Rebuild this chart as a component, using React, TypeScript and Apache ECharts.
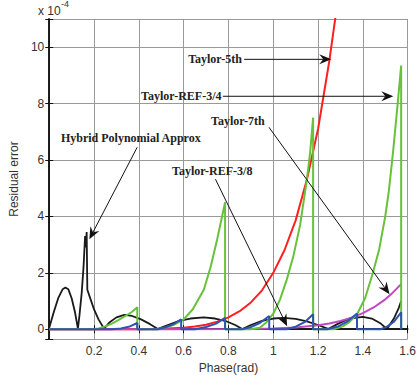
import React, { useEffect, useRef } from "react";
import * as echarts from "echarts";

// ---- axis settings ----
const X_MIN = 0;
const X_MAX = 1.6;
const X_STEP = 0.2;
const Y_MIN = -0.35;
const Y_MAX = 11;

// ---- series (x in rad, y in units of 1e-4) ----
const taylor5th: number[][] = [
  [0, 0], [0.3, 0], [0.4, 0.003], [0.5, 0.015], [0.6, 0.055], [0.65, 0.1], [0.7, 0.16],
  [0.75, 0.27], [0.8, 0.42], [0.85, 0.64], [0.9, 0.95], [0.95, 1.38], [1.0, 2.0],
  [1.05, 2.8], [1.1, 3.86], [1.15, 5.3], [1.2, 7.1], [1.25, 9.5], [1.28, 11.2], [1.3, 12.4],
];

const taylor7th: number[][] = [
  [0, 0], [0.6, 0], [0.8, 0.005], [0.9, 0.012], [1.0, 0.03], [1.1, 0.065], [1.2, 0.14],
  [1.25, 0.2], [1.3, 0.29], [1.35, 0.41], [1.4, 0.57], [1.45, 0.78], [1.5, 1.06],
  [1.53, 1.27], [1.55, 1.43], [1.571, 1.6],
];

const taylorRef34: number[][] = [
  [0, 0], [0.19, 0], [0.22, 0.03], [0.25, 0.1], [0.28, 0.2], [0.31, 0.33], [0.34, 0.47],
  [0.37, 0.62], [0.393, 0.78], [0.393, 0],
  [0.48, 0], [0.52, 0.06], [0.56, 0.17], [0.6, 0.35], [0.64, 0.7], [0.69, 1.4],
  [0.72, 2.2], [0.75, 3.2], [0.785, 4.5], [0.785, 0],
  [0.9, 0], [0.94, 0.05], [0.97, 0.25], [1.0, 0.55], [1.03, 1.05], [1.06, 1.75],
  [1.09, 2.6], [1.12, 3.7], [1.15, 5.3], [1.165, 6.3], [1.178, 7.5], [1.178, 0],
  [1.27, 0], [1.31, 0.1], [1.34, 0.25], [1.374, 0.53], [1.41, 1.1], [1.445, 2.0],
  [1.473, 2.84], [1.5, 4.0], [1.516, 4.9], [1.535, 6.3], [1.553, 7.8], [1.571, 9.35],
  [1.571, 0],
];

const taylorRef38: number[][] = [
  [0, 0], [0.28, 0], [0.32, 0.03], [0.36, 0.1], [0.393, 0.22], [0.393, 0],
  [0.485, 0], [0.52, 0.07], [0.555, 0.18], [0.589, 0.35], [0.589, 0],
  [0.65, 0], [0.7, 0.08], [0.745, 0.2], [0.785, 0.4], [0.785, 0],
  [0.86, 0], [0.9, 0.08], [0.94, 0.22], [0.982, 0.47], [0.982, 0],
  [1.06, 0], [1.1, 0.09], [1.14, 0.25], [1.178, 0.53], [1.178, 0],
  [1.24, 0], [1.29, 0.1], [1.33, 0.27], [1.374, 0.56], [1.374, 0],
  [1.48, 0], [1.51, 0.1], [1.54, 0.28], [1.571, 0.6], [1.571, 0],
];

const hybrid: number[][] = [
  [0, 0.05], [0.02, 0.6], [0.04, 1.1], [0.06, 1.42], [0.072, 1.48], [0.085, 1.42],
  [0.1, 1.1], [0.115, 0.6], [0.128, 0.02], [0.135, 0.5], [0.145, 1.3], [0.153, 2.2],
  [0.16, 3.3], [0.163, 2.9], [0.167, 3.45], [0.17, 1.4], [0.185, 1.05], [0.2, 0.7],
  [0.22, 0.35], [0.245, 0.02], [0.27, 0.25], [0.3, 0.42], [0.335, 0.51], [0.37, 0.47],
  [0.41, 0.35], [0.45, 0.18], [0.485, 0.01], [0.53, 0.15], [0.58, 0.3], [0.63, 0.38],
  [0.69, 0.42], [0.74, 0.38], [0.785, 0.3], [0.83, 0.15], [0.862, 0.01], [0.9, 0.15],
  [0.95, 0.3], [1.0, 0.38], [1.046, 0.4], [1.1, 0.37], [1.15, 0.28], [1.2, 0.15],
  [1.245, 0.01], [1.29, 0.2], [1.34, 0.38], [1.4, 0.44], [1.44, 0.38], [1.48, 0.2],
  [1.508, 0.01], [1.54, 0.4], [1.56, 0.75], [1.571, 1.0],
];

// ---- annotations (data coordinates) ----
const annotations = [
  { text: "Taylor-5th", at: [0.62, 9.57], from: [0.87, 9.57], to: [1.259, 9.57] },
  { text: "Taylor-REF-3/4", at: [0.41, 8.26], from: [0.775, 8.26], to: [1.536, 8.26] },
  { text: "Hybrid Polynomial Approx", at: [0.052, 6.77], from: [0.3925, 6.45], to: [0.179, 3.19] },
  { text: "Taylor-7th", at: [0.722, 7.37], from: [0.981, 7.16], to: [1.519, 1.24] },
  { text: "Taylor-REF-3/8", at: [0.548, 5.6], from: [0.742, 5.32], to: [1.062, 0.106] },
];

const SANS = '"Liberation Sans", Arial, sans-serif';
const SERIF = '"Liberation Serif", "Times New Roman", serif';

export default function App() {
  const ref = useRef<HTMLDivElement>(null);

  useEffect(() => {
    if (!ref.current) return;
    const chart = echarts.init(ref.current, undefined, { renderer: "svg" });

    const axisCommon = {
      axisLine: { show: true, lineStyle: { color: "#111", width: 1.5 } },
      axisTick: { show: true, inside: true, length: 4, lineStyle: { color: "#111" } },
    };

    const mkLine = (name: string, data: number[][], color: string, width = 2) => ({
      name,
      type: "line",
      data,
      showSymbol: false,
      symbol: "none",
      lineStyle: { color, width },
      itemStyle: { color },
      silent: true,
    });

    chart.setOption({
      animation: false,
      grid: { left: 38, right: 5, top: 19, bottom: 39, containLabel: false },
      xAxis: [
        {
          type: "value",
          min: X_MIN,
          max: X_MAX,
          interval: X_STEP,
          name: "Phase(rad)",
          nameLocation: "middle",
          nameGap: 21,
          nameTextStyle: { fontFamily: SANS, fontSize: 12, color: "#333" },
          ...axisCommon,
          axisLabel: {
            showMinLabel: false,
            alignMaxLabel: "center",
            hideOverlap: false,
            margin: 6,
            fontFamily: SANS,
            fontSize: 12,
            color: "#333",
          },
          splitLine: { show: true, lineStyle: { color: "#999", width: 1 } },
        },
        {
          type: "value",
          position: "top",
          min: X_MIN,
          max: X_MAX,
          interval: X_STEP,
          ...axisCommon,
          axisLabel: { show: false },
          splitLine: { show: false },
        },
      ],
      yAxis: [
        {
          type: "value",
          min: Y_MIN,
          max: Y_MAX,
          splitNumber: 5,
          name: "Residual error",
          nameLocation: "middle",
          nameGap: 25,
          nameTextStyle: { fontFamily: SANS, fontSize: 12, color: "#333" },
          ...axisCommon,
          axisLabel: {
            margin: 5,
            fontFamily: SANS,
            fontSize: 12,
            color: "#333",
            formatter: (v: number) =>
              Math.abs(v / 2 - Math.round(v / 2)) < 1e-6 ? String(Math.round(v)) : "",
          },
          splitLine: { show: true, lineStyle: { color: "#999", width: 1 } },
        },
        {
          type: "value",
          position: "right",
          min: Y_MIN,
          max: Y_MAX,
          splitNumber: 5,
          ...axisCommon,
          axisLabel: { show: false },
          splitLine: { show: false },
        },
      ],
      series: [
        mkLine("Hybrid Polynomial Approx", hybrid, "#1a1a1a", 1.8),
        mkLine("Taylor-5th", taylor5th, "#ff1f1f"),
        mkLine("Taylor-7th", taylor7th, "#c247c2"),
        mkLine("Taylor-REF-3/4", taylorRef34, "#66c23a"),
        mkLine("Taylor-REF-3/8", taylorRef38, "#2f52b4"),
      ],
    });

    const px = (p: number[]) => chart.convertToPixel({ gridIndex: 0 }, p) as number[];
    const graphics: any[] = [];
    annotations.forEach((a) => {
      const t = px(a.at);
      const s = px(a.from);
      const e = px(a.to);
      graphics.push({
        type: "text",
        x: t[0],
        y: t[1],
        z: 100,
        style: {
          text: a.text,
          fill: "#222",
          font: `bold 12px ${SERIF}`,
          textAlign: "left",
          textVerticalAlign: "middle",
        },
      });
      const dx = e[0] - s[0];
      const dy = e[1] - s[1];
      const len = Math.sqrt(dx * dx + dy * dy) || 1;
      const ux = dx / len;
      const uy = dy / len;
      const nx = -uy;
      const ny = ux;
      const L = 12;
      const W = 5;
      const N = 8;
      graphics.push({
        type: "line",
        z: 100,
        shape: { x1: s[0], y1: s[1], x2: e[0] - ux * N, y2: e[1] - uy * N },
        style: { stroke: "#111", lineWidth: 1 },
      });
      graphics.push({
        type: "polygon",
        z: 100,
        shape: {
          points: [
            [e[0], e[1]],
            [e[0] - ux * L + nx * W, e[1] - uy * L + ny * W],
            [e[0] - ux * N, e[1] - uy * N],
            [e[0] - ux * L - nx * W, e[1] - uy * L - ny * W],
          ],
        },
        style: { fill: "#111" },
      });
    });
    graphics.push({
      type: "text",
      x: 38,
      y: 11,
      z: 100,
      style: { text: "x 10", fill: "#333", font: `12px ${SANS}`, textAlign: "left", textVerticalAlign: "middle" },
    });
    graphics.push({
      type: "text",
      x: 61,
      y: 4,
      z: 100,
      style: { text: "-4", fill: "#333", font: `9px ${SANS}`, textAlign: "left", textVerticalAlign: "middle" },
    });
    chart.setOption({ graphic: graphics });

    return () => chart.dispose();
  }, []);

  return (
    <div
      ref={ref}
      style={{ position: "fixed", left: 0, top: 0, width: 419, height: 379, background: "#fff" }}
    />
  );
}
